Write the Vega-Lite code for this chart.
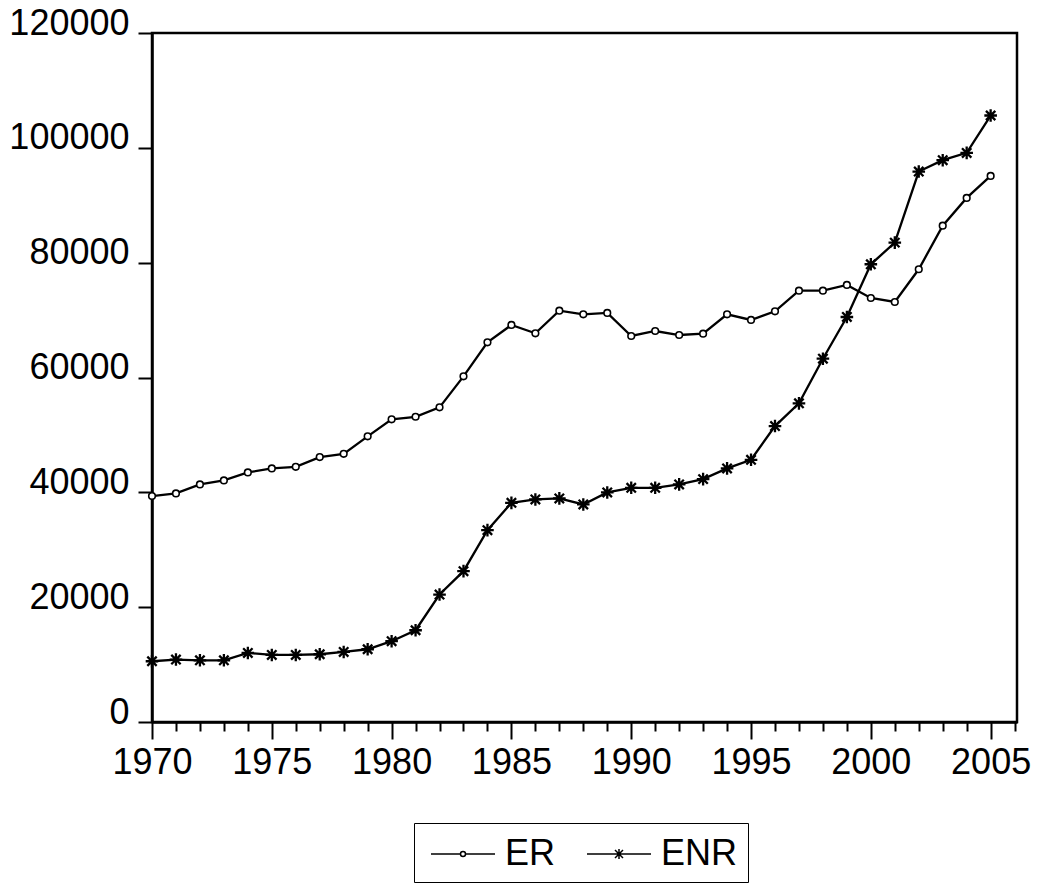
{
  "$schema": "https://vega.github.io/schema/vega-lite/v6.json",
  "autosize": "none",
  "width": 865,
  "height": 689,
  "padding": {"left": 152, "top": 33, "right": 21, "bottom": 162},
  "background": "white",
  "config": {
    "view": {"stroke": "black", "strokeWidth": 2.5},
    "font": "Liberation Sans",
    "axis": {"grid": false, "domainColor": "black", "domainWidth": 2.5, "tickColor": "black", "tickWidth": 2, "labelColor": "black", "labelFont": "Liberation Sans", "labelFontSize": 36, "title": null}
  },
  "data": {"values": [
    {"year": 1970, "series": "ER", "value": 39340}, {"year": 1971, "series": "ER", "value": 39810},
    {"year": 1972, "series": "ER", "value": 41380}, {"year": 1973, "series": "ER", "value": 42080},
    {"year": 1974, "series": "ER", "value": 43470}, {"year": 1975, "series": "ER", "value": 44170},
    {"year": 1976, "series": "ER", "value": 44450}, {"year": 1977, "series": "ER", "value": 46140},
    {"year": 1978, "series": "ER", "value": 46710}, {"year": 1979, "series": "ER", "value": 49750},
    {"year": 1980, "series": "ER", "value": 52710}, {"year": 1981, "series": "ER", "value": 53160},
    {"year": 1982, "series": "ER", "value": 54800}, {"year": 1983, "series": "ER", "value": 60200},
    {"year": 1984, "series": "ER", "value": 66130}, {"year": 1985, "series": "ER", "value": 69150},
    {"year": 1986, "series": "ER", "value": 67700}, {"year": 1987, "series": "ER", "value": 71640},
    {"year": 1988, "series": "ER", "value": 71010}, {"year": 1989, "series": "ER", "value": 71240},
    {"year": 1990, "series": "ER", "value": 67230}, {"year": 1991, "series": "ER", "value": 68100},
    {"year": 1992, "series": "ER", "value": 67400}, {"year": 1993, "series": "ER", "value": 67630},
    {"year": 1994, "series": "ER", "value": 71010}, {"year": 1995, "series": "ER", "value": 70020},
    {"year": 1996, "series": "ER", "value": 71530}, {"year": 1997, "series": "ER", "value": 75120},
    {"year": 1998, "series": "ER", "value": 75120}, {"year": 1999, "series": "ER", "value": 76120},
    {"year": 2000, "series": "ER", "value": 73850}, {"year": 2001, "series": "ER", "value": 73150},
    {"year": 2002, "series": "ER", "value": 78850}, {"year": 2003, "series": "ER", "value": 86450},
    {"year": 2004, "series": "ER", "value": 91280}, {"year": 2005, "series": "ER", "value": 95110},
    {"year": 1970, "series": "ENR", "value": 10580}, {"year": 1971, "series": "ENR", "value": 10880},
    {"year": 1972, "series": "ENR", "value": 10750}, {"year": 1973, "series": "ENR", "value": 10750},
    {"year": 1974, "series": "ENR", "value": 12030}, {"year": 1975, "series": "ENR", "value": 11680},
    {"year": 1976, "series": "ENR", "value": 11680}, {"year": 1977, "series": "ENR", "value": 11800},
    {"year": 1978, "series": "ENR", "value": 12200}, {"year": 1979, "series": "ENR", "value": 12670},
    {"year": 1980, "series": "ENR", "value": 14070}, {"year": 1981, "series": "ENR", "value": 15980},
    {"year": 1982, "series": "ENR", "value": 22200}, {"year": 1983, "series": "ENR", "value": 26270},
    {"year": 1984, "series": "ENR", "value": 33410}, {"year": 1985, "series": "ENR", "value": 38170},
    {"year": 1986, "series": "ENR", "value": 38760}, {"year": 1987, "series": "ENR", "value": 38940},
    {"year": 1988, "series": "ENR", "value": 37890}, {"year": 1989, "series": "ENR", "value": 39980},
    {"year": 1990, "series": "ENR", "value": 40790}, {"year": 1991, "series": "ENR", "value": 40790},
    {"year": 1992, "series": "ENR", "value": 41380}, {"year": 1993, "series": "ENR", "value": 42300},
    {"year": 1994, "series": "ENR", "value": 44170}, {"year": 1995, "series": "ENR", "value": 45670},
    {"year": 1996, "series": "ENR", "value": 51540}, {"year": 1997, "series": "ENR", "value": 55500},
    {"year": 1998, "series": "ENR", "value": 63270}, {"year": 1999, "series": "ENR", "value": 70540},
    {"year": 2000, "series": "ENR", "value": 79720}, {"year": 2001, "series": "ENR", "value": 83490},
    {"year": 2002, "series": "ENR", "value": 95870}, {"year": 2003, "series": "ENR", "value": 97850},
    {"year": 2004, "series": "ENR", "value": 99120}, {"year": 2005, "series": "ENR", "value": 105630}
  ]},
  "encoding": {
    "x": {
      "field": "year", "type": "quantitative",
      "scale": {"domain": [1970, 2006.1], "nice": false, "zero": false},
      "axis": {
        "values": [1970,1971,1972,1973,1974,1975,1976,1977,1978,1979,1980,1981,1982,1983,1984,1985,1986,1987,1988,1989,1990,1991,1992,1993,1994,1995,1996,1997,1998,1999,2000,2001,2002,2003,2004,2005,2006],
        "format": "d",
        "labelExpr": "datum.value % 5 === 0 ? datum.label : ''",
        "tickSize": {"condition": {"test": "datum.value % 5 === 0", "value": 17}, "value": 9},
        "labelPadding": 6,
        "labelFlush": false,
        "labelOverlap": false
      }
    },
    "y": {
      "field": "value", "type": "quantitative",
      "scale": {"domain": [0, 120000], "nice": false},
      "axis": {
        "values": [0, 20000, 40000, 60000, 80000, 100000, 120000],
        "format": "d",
        "tickSize": 14,
        "labelPadding": 9,
        "labelOffset": -10,
        "labelFlush": false,
        "labelOverlap": false
      }
    }
  },
  "layer": [
    {
      "mark": {"type": "line", "color": "black", "strokeWidth": 2.3},
      "encoding": {"detail": {"field": "series"}}
    },
    {
      "mark": {"type": "point", "filled": true, "fill": "white", "fillOpacity": 1, "stroke": "black", "opacity": 1, "size": 144},
      "encoding": {
        "shape": {
          "field": "series", "type": "nominal",
          "scale": {"domain": ["ER", "ENR"], "range": ["M-0.55,0A0.55,0.55,0,1,0,0.55,0A0.55,0.55,0,1,0,-0.55,0Z", "M-1.05,0L1.05,0M0,-1.05L0,1.05M-0.78,-0.78L0.78,0.78M-0.78,0.78L0.78,-0.78"]},
          "legend": null
        },
        "strokeWidth": {
          "field": "series", "type": "nominal",
          "scale": {"domain": ["ER", "ENR"], "range": [1.6, 2.3]},
          "legend": null
        }
      }
    },
    {
      "transform": [{"filter": "datum.year < 0"}],
      "mark": {"type": "point", "filled": false, "color": "black", "strokeWidth": 1.5, "opacity": 1},
      "encoding": {
        "shape": {
          "field": "series", "type": "nominal",
          "scale": {"domain": ["ER", "ENR"], "range": ["M-1.6,0L-0.125,0M0.125,0L1.6,0M-0.125,0A0.125,0.125,0,1,0,0.125,0A0.125,0.125,0,1,0,-0.125,0Z", "M-1.6,0L1.6,0M0,-0.25L0,0.25M-0.2,-0.2L0.2,0.2M-0.2,0.2L0.2,-0.2"]},
          "legend": {
            "title": null,
            "orient": "none",
            "legendX": 262,
            "legendY": 790,
            "direction": "horizontal",
            "strokeColor": "black",
            "padding": 10,
            "symbolSize": 1600,
            "symbolOffset": 18,
            "symbolStrokeColor": "black",
            "symbolStrokeWidth": 1.5,
            "symbolFillColor": "white",
            "symbolOpacity": 1,
            "labelOffset": 21,
            "columnPadding": 24,
            "labelFont": "Liberation Sans",
            "labelFontSize": 36,
            "labelColor": "black"
          }
        }
      }
    }
  ],
  "resolve": {"scale": {"shape": "independent", "strokeWidth": "independent"}}
}
